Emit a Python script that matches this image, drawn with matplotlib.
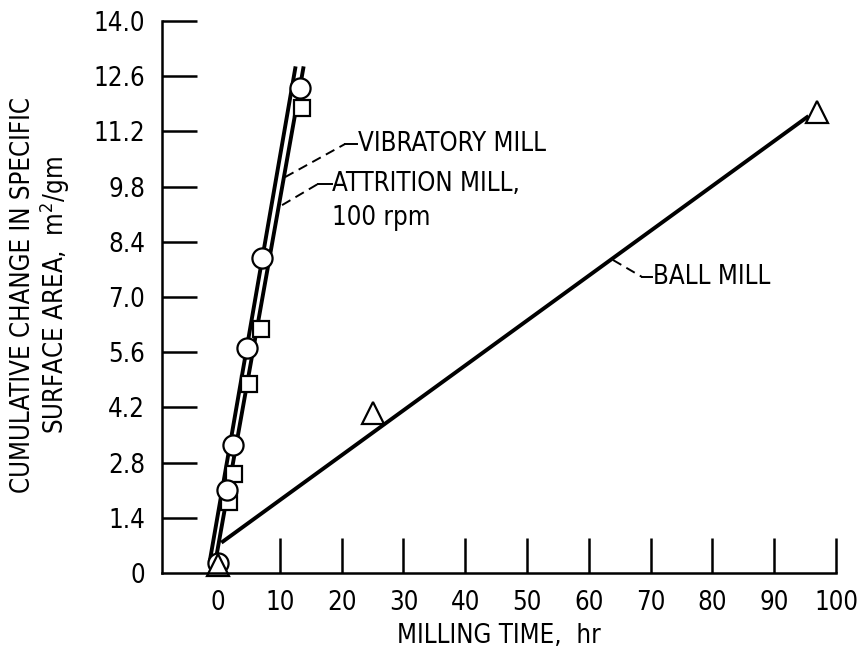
import matplotlib
matplotlib.use("Agg")
import matplotlib.pyplot as plt

plt.rcParams['font.family'] = ['DejaVu Sans']
plt.rcParams['font.stretch'] = 'condensed'

# measured points
vib_x = [0, 1.4, 2.4, 4.7, 7.1, 13.3]
vib_y = [0.25, 2.1, 3.25, 5.7, 8.0, 12.3]
att_x = [1.8, 2.6, 5.0, 6.9, 13.6]
att_y = [1.8, 2.5, 4.8, 6.2, 11.8]
ball_x = [0, 25, 97]
ball_y = [0.2, 4.05, 11.7]

# faired lines
vib_line_x = [-1.3, 12.5]
vib_line_y = [0.33, 12.8]
att_line_x = [-0.6, 13.8]
att_line_y = [0.13, 12.8]
ball_line_x = [0.8, 95.3]
ball_line_y = [0.8, 11.56]

x_ticks = [0, 10, 20, 30, 40, 50, 60, 70, 80, 90, 100]
y_ticks = [0, 1.4, 2.8, 4.2, 5.6, 7.0, 8.4, 9.8, 11.2, 12.6, 14.0]
y_labels = ['0', '1.4', '2.8', '4.2', '5.6', '7.0', '8.4', '9.8', '11.2', '12.6', '14.0']

fs = 18.5

fig = plt.figure(figsize=(8.6, 6.48), dpi=100)
ax = fig.add_axes([0.1884, 0.1157, 0.9721 - 0.1884, 0.9676 - 0.1157])

ax.plot(vib_line_x, vib_line_y, color='black', lw=2.8, clip_on=False)
ax.plot(att_line_x, att_line_y, color='black', lw=2.8, clip_on=False)
ax.plot(ball_line_x, ball_line_y, color='black', lw=2.8, clip_on=False)

ax.plot(att_x, att_y, ls='none', marker='s', ms=12, mfc='white', mec='black', mew=1.6, clip_on=False)
ax.plot(vib_x, vib_y, ls='none', marker='o', ms=14.5, mfc='white', mec='black', mew=1.6, clip_on=False)
ax.plot(ball_x, ball_y, ls='none', marker='^', ms=16, mfc='white', mec='black', mew=1.6, clip_on=False)

# leaders and labels
dash = (0, (5, 3))
ax.plot([10.84, 20.55], [10.04, 10.88], color='black', lw=1.4, ls=dash)
ax.plot([20.55, 22.5], [10.88, 10.88], color='black', lw=1.4)
ax.text(22.6, 10.88, 'VIBRATORY MILL', fontsize=fs, ha='left', va='center')

ax.plot([10.36, 16.2], [9.33, 9.87], color='black', lw=1.4, ls=dash)
ax.plot([16.2, 18.4], [9.87, 9.87], color='black', lw=1.4)
ax.text(18.5, 9.87, 'ATTRITION MILL,', fontsize=fs, ha='left', va='center')
ax.text(18.5, 9.0, '100 rpm', fontsize=fs, ha='left', va='center')

ax.plot([63.9, 68.6], [7.94, 7.51], color='black', lw=1.4, ls=dash)
ax.plot([68.6, 70.3], [7.51, 7.51], color='black', lw=1.4)
ax.text(70.4, 7.51, 'BALL MILL', fontsize=fs, ha='left', va='center')

ax.set_xlim(-9.06, 100)
ax.set_ylim(0, 14)
ax.spines['top'].set_visible(False)
ax.spines['right'].set_visible(False)
ax.spines['left'].set_linewidth(1.8)
ax.spines['bottom'].set_linewidth(1.8)

ax.set_xticks(x_ticks)
ax.set_yticks(y_ticks)
ax.set_yticklabels(y_labels)
ax.tick_params(direction='in', length=25, width=1.8, labelsize=fs)
ax.tick_params(axis='y', pad=12)
ax.tick_params(axis='x', pad=12)
ax.xaxis.get_major_ticks()[0].tick1line.set_visible(False)
ax.yaxis.get_major_ticks()[0].tick1line.set_visible(False)

ax.set_xlabel('MILLING TIME,  hr', fontsize=fs, labelpad=5)
fig.text(0.048, 0.545, 'CUMULATIVE CHANGE IN SPECIFIC\nSURFACE AREA,  m$^2$/gm',
         rotation=90, ha='center', va='center', multialignment='center',
         fontsize=fs, linespacing=1.05)

fig.savefig('out.png', dpi=100)
